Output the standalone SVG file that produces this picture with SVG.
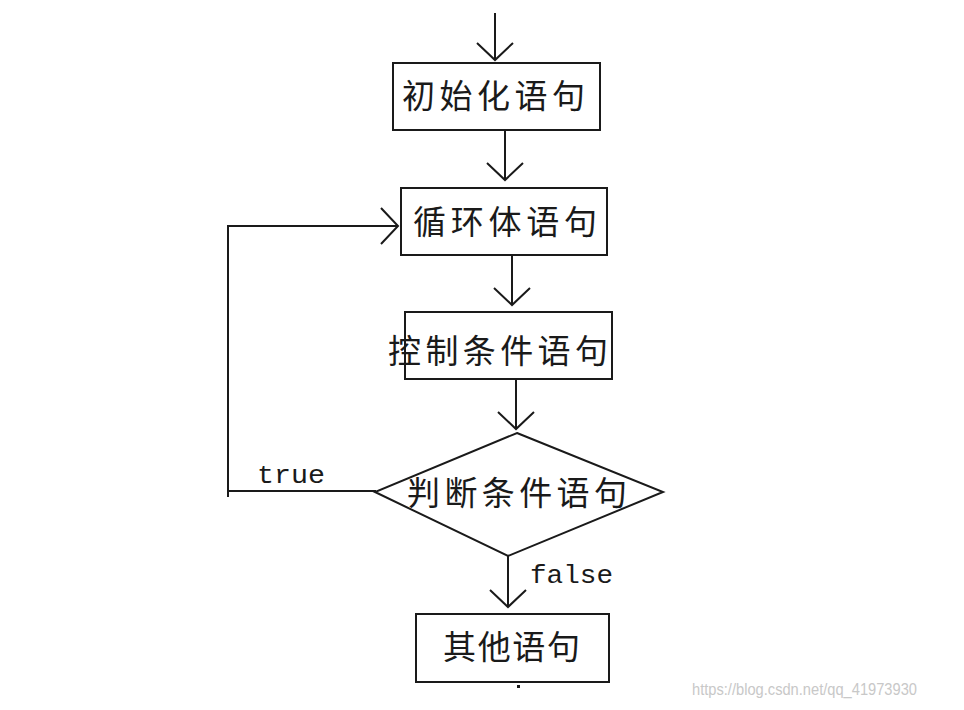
<svg xmlns="http://www.w3.org/2000/svg" width="964" height="710" viewBox="0 0 964 710">
<defs>
<marker id="v" markerUnits="userSpaceOnUse" markerWidth="40" markerHeight="40" viewBox="-20 -20 40 40" refX="0" refY="0" orient="auto" overflow="visible">
<path d="M-17,-18 L0,0 L-17,18" fill="none" stroke="#1a1a1a" stroke-width="2"/>
</marker>
<style>
.box{fill:#fff;stroke:#1a1a1a;stroke-width:2}
.ln{fill:none;stroke:#1a1a1a;stroke-width:2}
.cn{font-family:"Noto Sans CJK SC","Noto Sans CJK JP",sans-serif;font-size:33px;fill:#1a1a1a}
.mono{font-family:"Liberation Mono",monospace;font-size:26px;fill:#1a1a1a}
.wm{font-family:"Liberation Sans",Arial,sans-serif;font-size:17px;fill:#c8c8c8}
</style>
</defs>
<rect width="964" height="710" fill="#fff"/>
<g id="connectors">
<line class="ln" x1="495" y1="13" x2="495" y2="60" marker-end="url(#v)"/>
<line class="ln" x1="505" y1="130" x2="505" y2="180" marker-end="url(#v)"/>
<polyline class="ln" points="228,497 228,226 398,226" marker-end="url(#v)"/>
<line class="ln" x1="512" y1="255" x2="512" y2="305" marker-end="url(#v)"/>
<line class="ln" x1="516" y1="379" x2="516" y2="429" marker-end="url(#v)"/>
<line class="ln" x1="228" y1="491" x2="376" y2="491"/>
<line class="ln" x1="508" y1="556" x2="508" y2="607" marker-end="url(#v)"/>
<text class="mono" x="257" y="483" textLength="68" lengthAdjust="spacingAndGlyphs">true</text>
<text class="mono" x="530" y="583" textLength="83" lengthAdjust="spacingAndGlyphs">false</text>
</g>
<g id="n1">
<rect class="box" x="393" y="63" width="207" height="67"/>
<text class="cn" x="402" y="108" textLength="183" lengthAdjust="spacing">初始化语句</text>
</g>
<g id="n2">
<rect class="box" x="401" y="188" width="206" height="67"/>
<text class="cn" x="413" y="234" textLength="184" lengthAdjust="spacing">循环体语句</text>
</g>
<g id="n3">
<rect class="box" x="405" y="312" width="207" height="67"/>
<text class="cn" x="388" y="363" textLength="220" lengthAdjust="spacing">控制条件语句</text>
</g>
<g id="n4">
<polygon class="box" points="517,433 663,492 508,556 375,492"/>
<text class="cn" x="407" y="505" textLength="220" lengthAdjust="spacing">判断条件语句</text>
</g>
<g id="n5">
<rect class="box" x="416" y="614" width="193" height="68"/>
<text class="cn" x="443" y="659" textLength="137" lengthAdjust="spacing">其他语句</text>
</g>
<rect x="517" y="685" width="3" height="3" fill="#1a1a1a"/>
<text class="wm" x="692" y="695" textLength="225" lengthAdjust="spacingAndGlyphs">https://blog.csdn.net/qq_41973930</text>
</svg>
